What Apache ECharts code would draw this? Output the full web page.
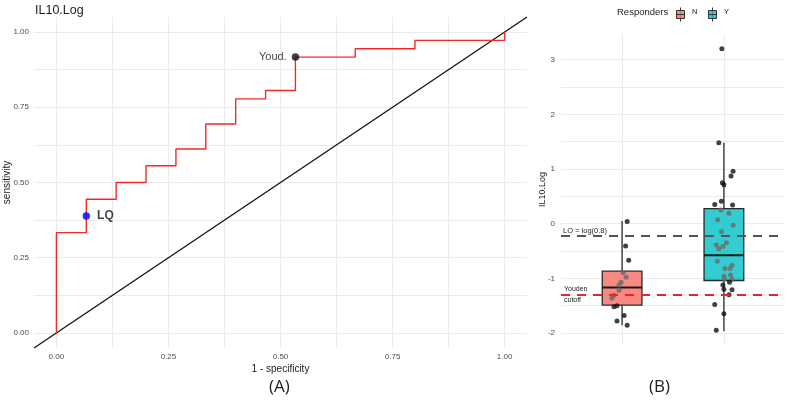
<!DOCTYPE html>
<html><head><meta charset="utf-8">
<script src="https://cdn.jsdelivr.net/npm/echarts@6/dist/echarts.min.js"></script>
<style>html,body{margin:0;padding:0;background:#fff}#c{width:788px;height:401px}</style>
</head><body><div id="c"></div>
<script>
// ---- Panel A: ROC curve (vertices of the step curve) ----
const rocFpr = [0, 0, 0.0667, 0.0667, 0.1333, 0.1333, 0.2, 0.2, 0.2667, 0.2667, 0.3333, 0.3333, 0.4, 0.4, 0.4667, 0.4667, 0.5333, 0.5333, 0.6667, 0.6667, 0.8, 0.8, 1, 1];
const rocTpr = [0, 0.3333, 0.3333, 0.4444, 0.4444, 0.5, 0.5, 0.5556, 0.5556, 0.6111, 0.6111, 0.6944, 0.6944, 0.7778, 0.7778, 0.8056, 0.8056, 0.9167, 0.9167, 0.9444, 0.9444, 0.9722, 0.9722, 1];
const diagRange = [-0.05, 1.05];
const cutNames = ['LQ', 'Youd.'];
const cutFpr = [0.0667, 0.5333];
const cutTpr = [0.3889, 0.9167];
const rocTicks = [0, 0.25, 0.5, 0.75, 1];
const rocGrid = [0, 0.125, 0.25, 0.375, 0.5, 0.625, 0.75, 0.875, 1];

// ---- Panel B: boxplots ----
const groups = ['N', 'Y'];
// [min, Q1, median, Q3, max]
const boxN = [-1.86, -1.49, -1.17, -0.87, 0.05];
const boxY = [-1.97, -1.04, -0.58, 0.275, 1.48];
const ptsNVal = [0.04, -0.41, -0.67, -0.90, -0.98, -1.07, -1.12, -1.22, -1.31, -1.36, -1.50, -1.52, -1.68, -1.78, -1.86];
const ptsNJit = [0.05, 0.035, 0.065, 0.01, 0.04, -0.01, -0.03, -0.03, -0.08, -0.10, -0.05, -0.08, 0.02, -0.05, 0.05];
const ptsYVal = [3.2, 1.48, 0.96, 0.87, 0.75, 0.71, 0.41, 0.35, 0.34, 0.25, 0.19, 0.07, -0.03, -0.15, -0.35, -0.39, -0.42, -0.46, -0.69, -0.76, -0.82, -0.82, -0.94, -0.96, -1.01, -1.02, -1.07, -1.12, -1.20, -1.21, -1.30, -1.48, -1.65, -1.95];
const ptsYJit = [-0.02, -0.05, 0.09, 0.07, -0.015, 0, -0.025, -0.09, 0.085, -0.03, 0.05, -0.06, 0.09, -0.025, 0.025, -0.075, -0.01, -0.05, -0.065, 0.08, 0.06, 0.01, 0.065, 0, 0.005, 0.08, 0.055, -0.01, 0, 0.08, 0.05, -0.09, 0, -0.075];
const loCutoff = Math.log(0.8);
const youdenCutoff = -1.30;
const boxTicks = [-2, -1, 0, 1, 2, 3];
const boxGridVals = [-2, -1.5, -1, -0.5, 0, 0.5, 1, 1.5, 2, 2.5, 3];

const FONT = 'Liberation Sans, Arial, sans-serif';
const gridCol = '#ebebeb';
const boxes = [boxN, boxY];
const fills = ['rgba(248,118,109,0.85)', 'rgba(0,191,196,0.8)'];

const rocData = rocFpr.map((x, i) => [x, rocTpr[i]]);
const boxData = boxes.map((b, i) => [i + 1].concat(b));
const ptData = [];
ptsNVal.forEach((v, i) => ptData.push([1 + ptsNJit[i], v, 0]));
ptsYVal.forEach((v, i) => ptData.push([2 + ptsYJit[i], v, 1]));

const chart = echarts.init(document.getElementById('c'), null, {renderer: 'canvas'});
chart.setOption({
  animation: false,
  textStyle: {fontFamily: FONT},
  title: {text: 'IL10.Log', left: 30, top: -1, textStyle: {fontSize: 12.5, fontWeight: 'normal', color: '#1a1a1a', fontFamily: FONT}},
  grid: [
    {left: 34, right: 261, top: 17, bottom: 53, containLabel: false, outerBoundsMode: 'none'},
    {left: 561, right: 3, top: 34, bottom: 56, containLabel: false, outerBoundsMode: 'none'}
  ],
  xAxis: [
    {gridIndex: 0, type: 'value', min: -0.05, max: 1.05,
     name: '1 - specificity', nameLocation: 'middle', nameGap: 16, nameMoveOverlap: false,
     nameTextStyle: {fontSize: 10, color: '#1a1a1a', fontFamily: FONT},
     axisLine: {show: false}, axisTick: {show: false, customValues: rocGrid},
     axisLabel: {customValues: rocTicks, fontSize: 8, color: '#4d4d4d', margin: 5, formatter: v => v.toFixed(2)},
     splitLine: {show: true, lineStyle: {color: gridCol, width: 1}}},
    {gridIndex: 1, type: 'value', min: 0.4, max: 2.6,
     axisLine: {show: false}, axisTick: {show: false, customValues: [1, 2]},
     axisLabel: {show: false},
     splitLine: {show: true, lineStyle: {color: gridCol, width: 1}}}
  ],
  yAxis: [
    {gridIndex: 0, type: 'value', min: -0.05, max: 1.05,
     name: 'sensitivity', nameLocation: 'middle', nameGap: 22, nameMoveOverlap: false,
     nameTextStyle: {fontSize: 10, color: '#1a1a1a', fontFamily: FONT},
     axisLine: {show: false}, axisTick: {show: false, customValues: rocGrid},
     axisLabel: {customValues: rocTicks, fontSize: 8, color: '#4d4d4d', margin: 5, formatter: v => v.toFixed(2)},
     splitLine: {show: true, lineStyle: {color: gridCol, width: 1}}},
    {gridIndex: 1, type: 'value', min: -2.22, max: 3.47,
     name: 'IL10.Log', nameLocation: 'middle', nameGap: 14, nameMoveOverlap: false,
     nameTextStyle: {fontSize: 9, color: '#1a1a1a', fontFamily: FONT},
     axisLine: {show: false}, axisTick: {show: false, customValues: boxGridVals},
     axisLabel: {customValues: boxTicks, fontSize: 8, color: '#4d4d4d', margin: 6},
     splitLine: {show: true, lineStyle: {color: gridCol, width: 1}}}
  ],
  series: [
    {type: 'line', xAxisIndex: 0, yAxisIndex: 0, data: diagRange.map(v => [v, v]), showSymbol: false,
     lineStyle: {color: '#111', width: 1.3}, silent: true, z: 2},
    {type: 'line', xAxisIndex: 0, yAxisIndex: 0, data: rocData, showSymbol: false,
     lineStyle: {color: '#f02a2a', width: 1.4}, silent: true, z: 3},
    {type: 'scatter', xAxisIndex: 0, yAxisIndex: 0, symbolSize: 7.5, z: 4,
     data: cutNames.map((n, i) => ({name: n, value: [cutFpr[i], cutTpr[i]],
       itemStyle: {color: i === 0 ? '#0000ff' : '#111'},
       label: {show: true, formatter: n, position: i === 0 ? 'right' : 'left', distance: i === 0 ? 7 : 5,
               fontSize: i === 0 ? 12 : 11, fontWeight: i === 0 ? 'bold' : 'normal', color: '#111', fontFamily: FONT}}))},
    {type: 'custom', xAxisIndex: 1, yAxisIndex: 1, data: boxData, z: 2,
     renderItem: function (params, api) {
       const x = api.value(0), mn = api.value(1), q1 = api.value(2), md = api.value(3), q3 = api.value(4), mx = api.value(5);
       const hw = 0.195;
       const tl = api.coord([x - hw, q3]), br = api.coord([x + hw, q1]);
       const pMin = api.coord([x, mn]), pMax = api.coord([x, mx]);
       const mL = api.coord([x - hw, md]), mR = api.coord([x + hw, md]);
       const st = {stroke: '#2a2a2a', lineWidth: 1.3};
       return {type: 'group', children: [
         {type: 'line', shape: {x1: pMax[0], y1: pMax[1], x2: pMax[0], y2: tl[1]}, style: st},
         {type: 'line', shape: {x1: pMin[0], y1: br[1], x2: pMin[0], y2: pMin[1]}, style: st},
         {type: 'rect', shape: {x: tl[0], y: tl[1], width: br[0] - tl[0], height: br[1] - tl[1]},
          style: {fill: fills[params.dataIndex], stroke: '#2a2a2a', lineWidth: 1.3}},
         {type: 'line', shape: {x1: mL[0], y1: mL[1], x2: mR[0], y2: mR[1]}, style: {stroke: '#1a1a1a', lineWidth: 2}}
       ]};
     }},
    {type: 'scatter', xAxisIndex: 1, yAxisIndex: 1, symbolSize: 5, z: 3, data: ptData,
     itemStyle: {color: function (p) {
       const b = boxes[p.value[2]];
       return (p.value[1] > b[1] && p.value[1] < b[3]) ? '#6a6a6a' : '#111';
     }}},
    {type: 'line', xAxisIndex: 1, yAxisIndex: 1, data: [], z: 5,
     markLine: {silent: true, symbol: 'none', animation: false,
       data: [
         {yAxis: loCutoff, lineStyle: {color: '#555', type: [9, 7], width: 2.2},
          label: {show: true, position: 'insideStartTop', formatter: 'LO = log(0.8)', fontSize: 7.5, color: '#222', distance: [2, 1], fontFamily: FONT}},
         {yAxis: youdenCutoff, lineStyle: {color: '#e8262a', type: [9, 7], width: 2.2},
          label: {show: true, position: 'insideStart', formatter: 'Youden\ncutoff', fontSize: 7, lineHeight: 11, color: '#222', distance: [3, 0], fontFamily: FONT}}
       ]}}
  ],
  graphic: [
    {type: 'text', left: 617, top: 7, style: {text: 'Responders', fontSize: 9.5, fill: '#1a1a1a', fontFamily: FONT}},
    {type: 'group', left: 674, top: 5, children: [
      {type: 'line', shape: {x1: 4, y1: 0, x2: 4, y2: 14}, style: {stroke: '#333', lineWidth: 1}},
      {type: 'rect', shape: {x: 0, y: 3, width: 8, height: 8}, style: {fill: 'rgba(248,118,109,0.85)', stroke: '#333', lineWidth: 1}},
      {type: 'line', shape: {x1: 0, y1: 7, x2: 8, y2: 7}, style: {stroke: '#333', lineWidth: 1}}
    ]},
    {type: 'text', left: 692, top: 8, style: {text: 'N', fontSize: 7.5, fill: '#1a1a1a', fontFamily: FONT}},
    {type: 'group', left: 706, top: 5, children: [
      {type: 'line', shape: {x1: 4, y1: 0, x2: 4, y2: 14}, style: {stroke: '#333', lineWidth: 1}},
      {type: 'rect', shape: {x: 0, y: 3, width: 8, height: 8}, style: {fill: 'rgba(0,191,196,0.8)', stroke: '#333', lineWidth: 1}},
      {type: 'line', shape: {x1: 0, y1: 7, x2: 8, y2: 7}, style: {stroke: '#333', lineWidth: 1}}
    ]},
    {type: 'text', left: 724, top: 8, style: {text: 'Y', fontSize: 7.5, fill: '#1a1a1a', fontFamily: FONT}},
    {type: 'text', left: 269, top: 379, style: {text: '(A)', fontSize: 17, fill: '#222', fontFamily: 'Open Sans, DejaVu Sans, sans-serif'}},
    {type: 'text', left: 649, top: 379, style: {text: '(B)', fontSize: 17, fill: '#222', fontFamily: 'Open Sans, DejaVu Sans, sans-serif'}}
  ]
});
</script></body></html>
